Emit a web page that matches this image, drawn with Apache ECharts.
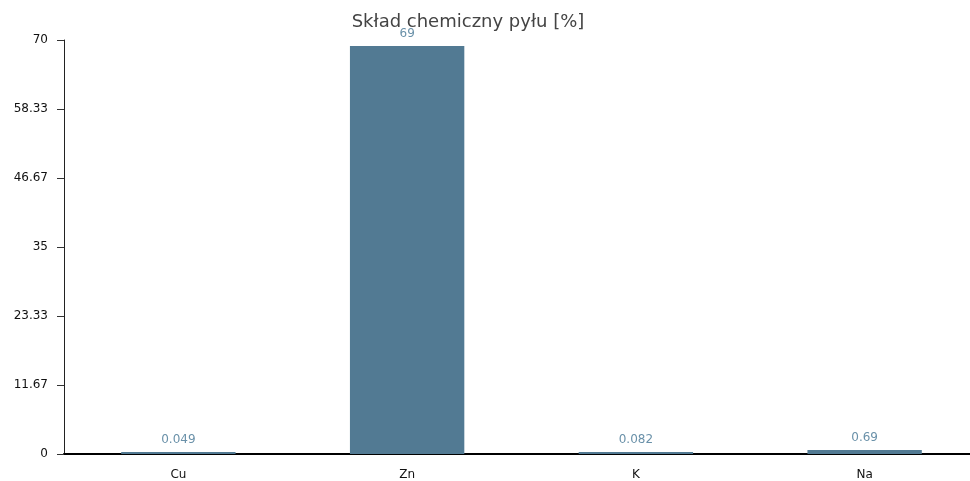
<!DOCTYPE html>
<html><head><meta charset="utf-8">
<script src="https://cdn.jsdelivr.net/npm/echarts@6/dist/echarts.min.js"></script>
<style>html,body{margin:0;padding:0;background:#fff;overflow:hidden}#wrap{position:relative;width:970px;height:481px;overflow:hidden}#c{position:absolute;left:0;top:0;width:990px;height:481px}</style>
</head><body><div id="wrap"><div id="c"></div></div>
<script>
var categories = ["Cu", "Zn", "K", "Na"];
var values = [0.049, 69, 0.082, 0.69];
var yTickLabels = ["0", "11.67", "23.33", "35", "46.67", "58.33", "70"];
var titleText = "Skład chemiczny pyłu [%]";

var chart = echarts.init(document.getElementById('c'));
chart.setOption({
  animation: false,
  title: {
    text: titleText, left: 463, top: 8, textAlign: 'center',
    textStyle: {fontFamily: 'DejaVu Sans', fontSize: 18, fontWeight: 'normal', color: '#444'}
  },
  grid: {left: 64, width: 915, top: 40, height: 416, containLabel: false},
  xAxis: {
    type: 'category', data: categories,
    axisLine: {lineStyle: {color: '#000', width: 2}},
    axisTick: {alignWithLabel: true, length: 6, lineStyle: {color: '#333'}},
    axisLabel: {fontFamily: 'DejaVu Sans', fontSize: 12, color: '#111', margin: 15}
  },
  yAxis: {
    type: 'value', min: 0, max: 70, interval: 70 / 6,
    axisLine: {show: true, lineStyle: {color: '#222', width: 1}},
    axisTick: {show: true, length: 7, lineStyle: {color: '#333'}},
    splitLine: {show: false},
    axisLabel: {
      fontFamily: 'DejaVu Sans', fontSize: 12, color: '#111', margin: 16,
      formatter: function (v, i) { return yTickLabels[i] !== undefined ? yTickLabels[i] : ''; }
    }
  },
  series: [{
    type: 'bar', data: values, barWidth: '50%', barMinHeight: 2,
    itemStyle: {color: '#527a93'},
    label: {show: true, position: 'top', distance: 6,
      fontFamily: 'DejaVu Sans', fontSize: 12, color: '#6a91a9'}
  }]
});
</script></body></html>
